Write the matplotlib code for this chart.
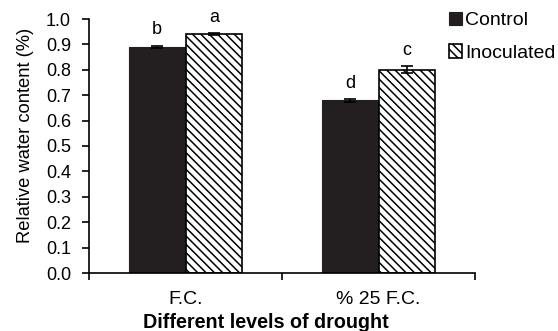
import matplotlib
matplotlib.use("Agg")
import matplotlib.pyplot as plt
import numpy as np

categories = ["F.C.", "% 25 F.C."]
control = [0.89, 0.68]
inoculated = [0.94, 0.80]
control_err = [0.005, 0.005]
inoculated_err = [0.003, 0.013]
control_letters = ["b", "d"]
inoculated_letters = ["a", "c"]
yticks = [0.0, 0.1, 0.2, 0.3, 0.4, 0.5, 0.6, 0.7, 0.8, 0.9, 1.0]

plt.rcParams['font.family'] = ['Liberation Sans', 'DejaVu Sans']
plt.rcParams['hatch.linewidth'] = 1.1

fig = plt.figure(figsize=(5.58, 3.31), dpi=100)
ax = fig.add_axes([89/558, 1-273/331, (475-89)/558, (273-19)/331])

centers = np.arange(len(categories)) + 0.5
w = 0.295
ax.bar(centers - w/2, control, w, color='#231f20', edgecolor='#231f20', linewidth=0.8,
       yerr=control_err, error_kw=dict(ecolor='black', capsize=4, elinewidth=1.2, capthick=1.2),
       label='Control', zorder=2)
ax.bar(centers + w/2, inoculated, w, color='white', edgecolor='black', linewidth=1.2,
       hatch='\\\\\\\\', yerr=inoculated_err,
       error_kw=dict(ecolor='black', capsize=4, elinewidth=1.2, capthick=1.2),
       label='Inoculated', zorder=2)

for i in range(len(categories)):
    ax.text(centers[i] - w/2, control[i] + control_err[i] + 0.045, control_letters[i],
            ha='center', va='baseline', fontsize=13)
    ax.text(centers[i] + w/2, inoculated[i] + inoculated_err[i] + 0.045, inoculated_letters[i],
            ha='center', va='baseline', fontsize=13)

ax.set_xlim(0, 2)
ax.set_ylim(0, 1.0)
ax.set_yticks(yticks)
ax.set_yticklabels([f"{v:.1f}" for v in yticks], fontsize=13)
ax.set_xticks([0, 1, 2])
ax.set_xticklabels([])
ax.set_xticks(centers, minor=True)
ax.set_xticklabels(categories, minor=True, fontsize=14)
ax.tick_params(axis='x', which='minor', length=0, pad=13)
ax.tick_params(axis='x', which='major', length=5, width=1.2, direction='out')
ax.tick_params(axis='y', length=5, width=1.2, direction='out', pad=8)

for s in ['top', 'right']:
    ax.spines[s].set_visible(False)
for s in ['left', 'bottom']:
    ax.spines[s].set_linewidth(1.2)

ax.set_ylabel('Relative water content (%)', fontsize=13.2)
ax.yaxis.set_label_coords(-0.143, 0.54)
ax.set_xlabel('Different levels of drought', fontsize=14.2, fontweight='bold')
ax.xaxis.set_label_coords(0.457, -0.158)

fig.legend(loc='upper left', bbox_to_anchor=(443/558, 1 - 6/331), frameon=False, fontsize=14,
           handlelength=0.7, handleheight=0.7, handletextpad=0.15, labelspacing=0.75,
           borderaxespad=0, borderpad=0.3)

fig.savefig('out.png', dpi=100)
